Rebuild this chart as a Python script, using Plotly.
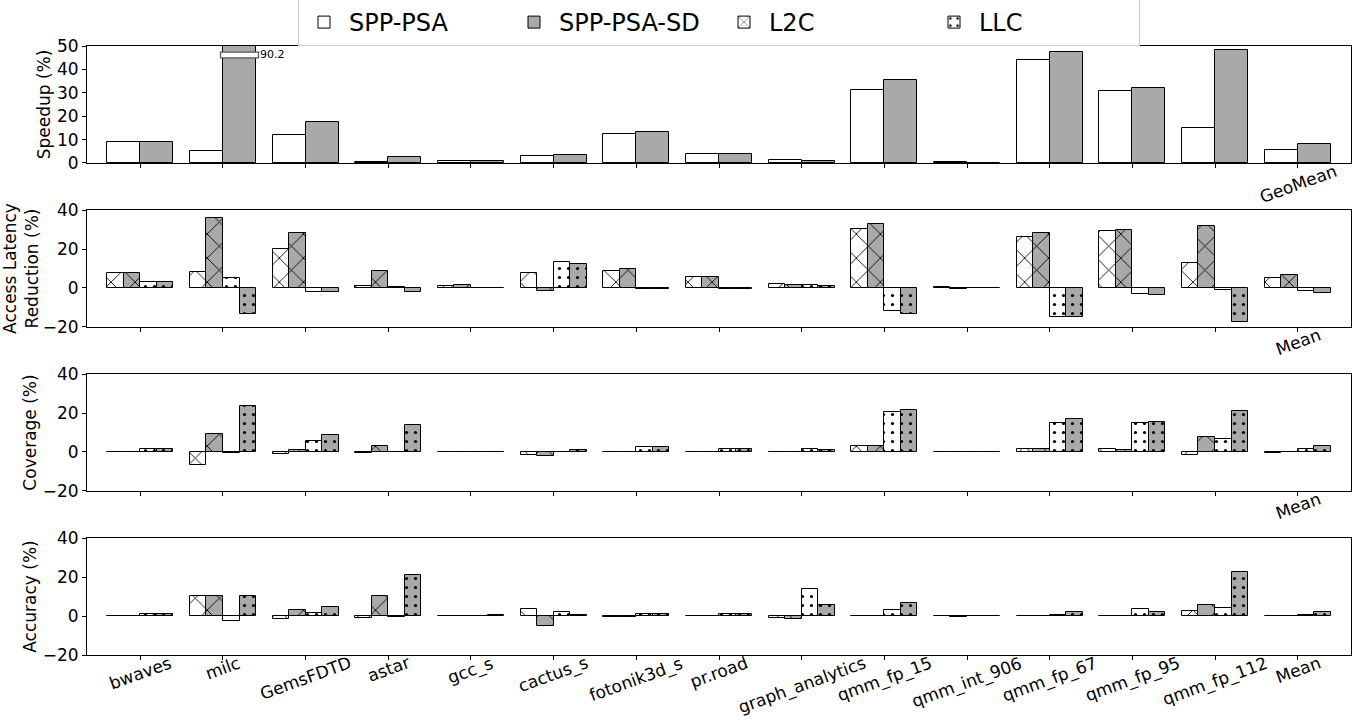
import plotly.graph_objects as go

categories = ["bwaves", "milc", "GemsFDTD", "astar", "gcc_s", "cactus_s", "fotonik3d_s",
              "pr.road", "graph_analytics", "qmm_fp_15", "qmm_int_906", "qmm_fp_67",
              "qmm_fp_95", "qmm_fp_112", "Mean"]
speedup_summary_label = "GeoMean"

speedup_psa = [9.0, 5.0, 11.9, 0.4, 0.7, 3.0, 12.4, 4.0, 1.3, 31.4, 0.4, 43.9, 30.9, 15.0, 5.6]
speedup_sd = [9.0, 90.2, 17.6, 2.6, 0.7, 3.4, 13.1, 4.0, 0.9, 35.6, 0.1, 47.4, 32.0, 48.1, 8.3]

lat_l2c_psa = [7.5, 8.2, 20.1, 0.9, 1.2, 7.5, 8.6, 5.5, 2.1, 30.5, 0.3, 26.2, 29.2, 12.9, 5.1]
lat_l2c_sd = [7.5, 36.0, 28.3, 8.6, 1.5, -1.7, 9.6, 5.5, 1.5, 32.6, -0.3, 28.3, 29.8, 31.9, 6.5]
lat_llc_psa = [2.9, 5.1, -2.1, 0.3, 0.2, 13.4, -0.3, -0.5, 1.5, -12.0, 0.1, -15.1, -3.1, -1.2, -1.4]
lat_llc_sd = [3.1, -13.2, -2.1, -2.1, 0.2, 12.2, -0.3, -0.5, 1.0, -13.4, 0.1, -15.1, -3.4, -17.5, -2.6]

cov_l2c_psa = [-0.2, -6.6, -1.0, -0.3, 0.0, -1.7, 0.0, 0.0, 0.0, 2.9, 0.1, 1.7, 1.7, -1.6, -0.3]
cov_l2c_sd = [-0.2, 9.0, 1.0, 2.9, 0.0, -2.1, 0.0, 0.0, 0.0, 2.9, -0.1, 1.7, 1.2, 7.6, 0.2]
cov_llc_psa = [1.5, -0.3, 5.4, 0.0, 0.2, 0.2, 2.4, 1.5, 1.6, 20.4, 0.0, 14.7, 14.7, 6.7, 1.7]
cov_llc_sd = [1.5, 23.7, 8.7, 13.7, 0.2, 1.2, 2.8, 1.5, 0.8, 21.5, 0.2, 16.8, 15.2, 20.9, 3.1]

acc_l2c_psa = [-0.1, 10.3, -1.5, -0.9, -0.1, 3.8, -0.3, 0.0, -1.0, 0.0, 0.2, 0.0, 0.0, 2.4, 0.0]
acc_l2c_sd = [-0.1, 10.1, 3.3, 10.3, -0.1, -5.0, -0.3, 0.0, -1.5, 0.2, -0.3, 0.0, 0.0, 5.8, 0.0]
acc_llc_psa = [1.0, -2.7, 1.5, -0.5, 0.1, 2.1, 0.9, 1.0, 13.6, 3.3, -0.1, 0.6, 3.8, 4.1, 0.5]
acc_llc_sd = [1.2, 10.3, 4.8, 21.1, 0.3, 0.7, 1.0, 1.0, 5.8, 6.5, -0.1, 1.9, 2.2, 22.8, 2.2]

speedup_ymax = 50
panel_titles = ["Speedup (%)", "Access Latency<br>Reduction (%)", "Coverage (%)", "Accuracy (%)"]

WHITE = "#ffffff"
GRAY = "#a9a9a9"
FONT = "DejaVu Sans"
xpos = list(range(len(categories)))

fig = go.Figure()


def bar(y, color, offset, width, axis, name, showlegend, shape=""):
    pattern = dict(shape=shape, fgcolor="black", bgcolor=color, fillmode="replace",
                   size=17 if shape == "x" else 9, solidity=0.1)
    fig.add_trace(go.Bar(
        x=xpos, y=y, offset=offset, width=width, name=name, showlegend=showlegend,
        xaxis="x" + axis, yaxis="y" + axis,
        marker=dict(color=color, line=dict(color="black", width=1), pattern=pattern),
    ))


# Panel 1: speedup
bar(speedup_psa, WHITE, -0.4, 0.4, "", "SPP-PSA", True)
bar(speedup_sd, GRAY, 0.0, 0.4, "", "SPP-PSA-SD", True)

panels = [
    ("2", lat_l2c_psa, lat_l2c_sd, lat_llc_psa, lat_llc_sd),
    ("3", cov_l2c_psa, cov_l2c_sd, cov_llc_psa, cov_llc_sd),
    ("4", acc_l2c_psa, acc_l2c_sd, acc_llc_psa, acc_llc_sd),
]
for ax, a, b, c, d in panels:
    first = ax == "2"
    bar(a, WHITE, -0.4, 0.2, ax, "L2C", first, "x")
    bar(b, GRAY, -0.2, 0.2, ax, "L2C SD", False, "x")
    bar(c, WHITE, 0.0, 0.2, ax, "LLC", first, ".")
    bar(d, GRAY, 0.2, 0.2, ax, "LLC SD", False, ".")

domains = [[0.8079, 1.0], [0.5386, 0.7307], [0.2693, 0.4614], [0.0, 0.1921]]
axis_common = dict(showline=True, mirror=True, linecolor="black", linewidth=1,
                   ticks="outside", ticklen=4, tickcolor="black", showgrid=False,
                   zeroline=False, tickfont=dict(family=FONT, size=17, color="black"))
layout_axes = {}
for i, key in enumerate(["", "2", "3", "4"]):
    xa = dict(axis_common)
    xa.update(range=[-0.645, len(categories) - 1 + 0.645], tickvals=xpos,
              ticktext=[""] * len(categories), anchor="y" + key, domain=[0, 1])
    if key:
        xa["matches"] = "x"
    ya = dict(axis_common)
    if key == "":
        ya.update(range=[0, speedup_ymax], tickvals=[0, 10, 20, 30, 40, 50])
    else:
        ya.update(range=[-20, 40], tickvals=[-20, 0, 20, 40])
    ya.update(domain=domains[i], anchor="x" + key,
              title=dict(text=panel_titles[i], font=dict(family=FONT, size=17, color="black"),
                         standoff=1))
    layout_axes["xaxis" + key] = xa
    layout_axes["yaxis" + key] = ya
fig.update_layout(**layout_axes)

annotations = []
label_font = dict(family=FONT, size=17, color="black")
LABEL_SHIFT = 5
# summary labels under panels 1-3
summary_labels = [speedup_summary_label, categories[-1], categories[-1]]
for key, lab in zip(["", "2", "3"], summary_labels):
    annotations.append(dict(x=xpos[-1], y=0, xref="x" + key, yref=("y" + key) + " domain",
                            text=lab, textangle=-20, showarrow=False, xanchor="center",
                            yanchor="top", yshift=LABEL_SHIFT, font=label_font))
for i, lab in enumerate(categories):
    annotations.append(dict(x=xpos[i], y=0, xref="x4", yref="y4 domain", text=lab,
                            textangle=-20, showarrow=False, xanchor="center", yanchor="top",
                            yshift=LABEL_SHIFT, font=label_font))

# broken bar marker for values exceeding the speedup axis
shapes = []
for i, v in enumerate(speedup_sd):
    if v > speedup_ymax:
        shapes.append(dict(type="rect", xref="x", yref="y", x0=xpos[i] - 0.03, x1=xpos[i] + 0.43,
                           y0=speedup_ymax * 0.898, y1=speedup_ymax * 0.948,
                           fillcolor="white", line=dict(color="#555555", width=1.2), layer="above"))
        annotations.append(dict(x=xpos[i] + 0.42, y=speedup_ymax * 0.93, xref="x", yref="y",
                                text=f"{v:.1f}", showarrow=False, xanchor="left", yanchor="middle",
                                font=dict(family=FONT, size=11, color="black")))

fig.update_layout(
    width=1359, height=723,
    margin=dict(l=87, r=8, t=46, b=68, autoexpand=False),
    paper_bgcolor="white", plot_bgcolor="white",
    barmode="overlay", bargap=0,
    font=dict(family=FONT, color="black"),
    annotations=annotations, shapes=shapes,
    legend=dict(orientation="h", x=0.5, xanchor="center", xref="paper",
                y=1.0, yanchor="bottom", yref="paper",
                font=dict(family=FONT, size=24, color="black"),
                bordercolor="#cccccc", borderwidth=1, bgcolor="white",
                entrywidth=155, entrywidthmode="pixels", itemwidth=40),
)

fig.write_html("out.html", config={"displayModeBar": False},
               post_script="document.body.style.margin='0px';document.body.style.overflow='hidden';")
